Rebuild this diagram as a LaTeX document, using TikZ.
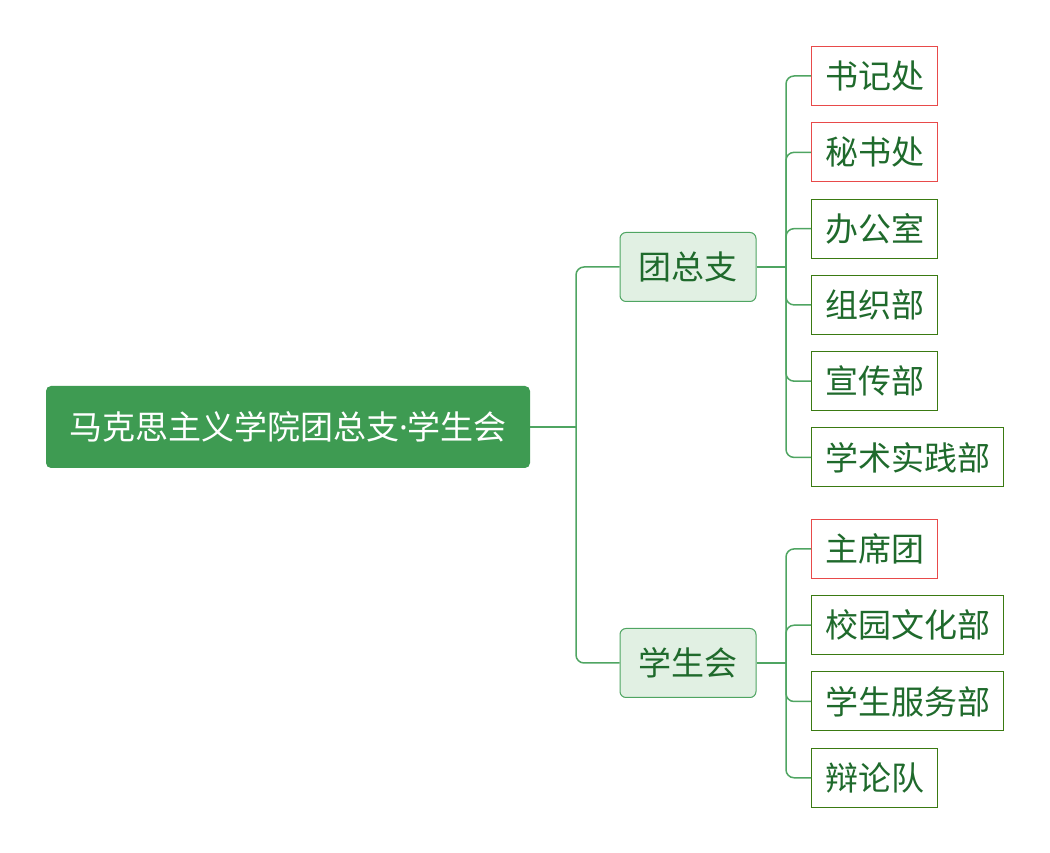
\documentclass[tikz,border=0pt]{standalone}
\usepackage{fontspec}
\setmainfont{Noto Sans CJK SC}
\newfontfamily\dotfont{Noto Sans}
\usetikzlibrary{positioning}
\definecolor{rootgreen}{HTML}{3E9B52}
\definecolor{subfill}{HTML}{E1F0E3}
\definecolor{subline}{HTML}{4FA562}
\definecolor{textgreen}{HTML}{1F6A2C}
\definecolor{leafgreen}{HTML}{3A7A12}
\definecolor{leafred}{HTML}{E84A4A}
\tikzstyle{rootbox} = [rectangle, rounded corners=5pt, minimum width=484pt, minimum height=82pt, text centered, fill=rootgreen, text=white, font=\fontsize{33}{38}\selectfont]
\tikzstyle{branchbox} = [rectangle, rounded corners=6pt, minimum width=136pt, minimum height=69pt, text centered, draw=subline, fill=subfill, text=textgreen, line width=1pt, font=\fontsize{33}{38}\selectfont]
\tikzstyle{leafbox} = [rectangle, minimum height=59pt, inner xsep=13.5pt, draw=leafgreen, text=textgreen, line width=1pt, font=\fontsize{33}{38}\selectfont]
\tikzstyle{keyleafbox} = [rectangle, minimum height=59pt, inner xsep=13.5pt, draw=leafred, text=textgreen, line width=1.1pt, font=\fontsize{33}{38}\selectfont]
\tikzstyle{link} = [draw=subline, line width=1.5pt]
\tikzstyle{elbowlink} = [link, rounded corners=8pt]

\begin{document}
\begin{tikzpicture}[x=1pt, y=1pt, node distance=16.25pt]
 \useasboundingbox (0,0) rectangle (1050,852);

 \node (root) [rootbox] at (288,425) {马克思主义学院团总支{\dotfont ·}学生会};
 \node (tzz) [branchbox] at (688,585) {团总支};
 \node (xsh) [branchbox] at (688,189) {学生会};

 \node (sjc) [keyleafbox, anchor=west] at (811,776) {书记处};
 \node (msc) [keyleafbox, below=of sjc.south west, anchor=north west] {秘书处};
 \node (bgs) [leafbox, below=of msc.south west, anchor=north west] {办公室};
 \node (zzb) [leafbox, below=of bgs.south west, anchor=north west] {组织部};
 \node (xcb) [leafbox, below=of zzb.south west, anchor=north west] {宣传部};
 \node (xsb) [leafbox, below=of xcb.south west, anchor=north west] {学术实践部};

 \node (zxt) [keyleafbox, below=31.5pt of xsb.south west, anchor=north west] {主席团};
 \node (xyb) [leafbox, below=of zxt.south west, anchor=north west] {校园文化部};
 \node (fwb) [leafbox, below=of xyb.south west, anchor=north west] {学生服务部};
 \node (bld) [leafbox, below=of fwb.south west, anchor=north west] {辩论队};

 \coordinate (rootfork) at (576,425);
 \coordinate (tzzfork) at (786,585);
 \coordinate (xshfork) at (786,189);

 \draw[link] (root.east) -- (rootfork);
 \draw[elbowlink] (rootfork) |- (tzz.west);
 \draw[elbowlink] (rootfork) |- (xsh.west);

 \draw[link] (tzz.east) -- (tzzfork);
 \foreach \n in {sjc,msc,bgs,zzb,xcb,xsb}
  \draw[elbowlink] (tzzfork) |- (\n.west);

 \draw[link] (xsh.east) -- (xshfork);
 \foreach \n in {zxt,xyb,fwb,bld}
  \draw[elbowlink] (xshfork) |- (\n.west);
\end{tikzpicture}
\end{document}
